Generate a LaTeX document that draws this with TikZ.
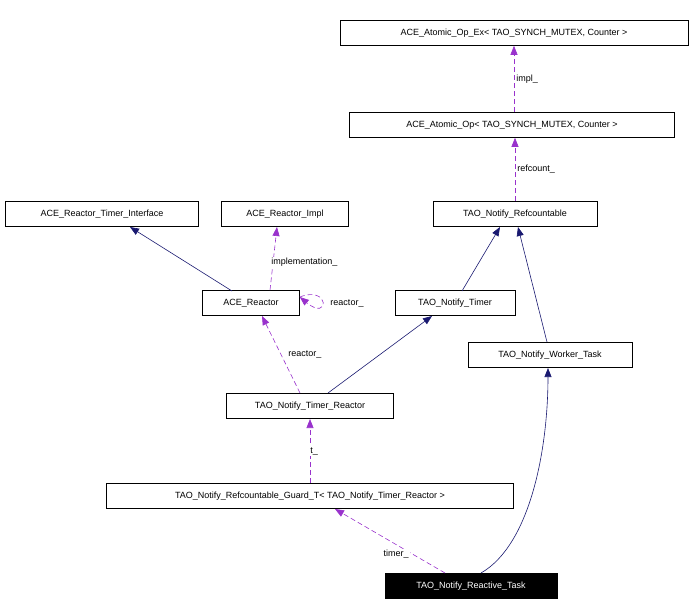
\documentclass[tikz,border=0pt]{standalone}
\usepackage{fontspec}
\setmainfont{Liberation Sans}
\usetikzlibrary{arrows.meta}
\begin{document}
\begin{tikzpicture}[x=1pt,y=-1pt,
 box/.style={draw=black,fill=white,font=\fontsize{9}{10}\selectfont,minimum height=25pt,inner xsep=3pt,anchor=center,line width=0.6pt},
 inh/.style={draw={rgb,255:red,25;green,25;blue,112},-{Triangle[open,fill={rgb,255:red,25;green,25;blue,112},length=9pt,width=7pt]},line width=0.6pt},
 use/.style={draw={rgb,255:red,153;green,50;blue,204},dashed,dash pattern=on 5pt off 3pt,-{Triangle[fill={rgb,255:red,153;green,50;blue,204},length=9pt,width=7pt]},line width=0.6pt},
 lbl/.style={font=\fontsize{9}{10}\selectfont,fill=white,inner sep=1pt}]
\useasboundingbox (0,0) rectangle (694,616);
\node[box,minimum width=348pt] (ex) at (514,33) {ACE\_Atomic\_Op\_Ex< TAO\_SYNCH\_MUTEX, Counter >};
\node[box,minimum width=325pt] (op) at (512,125) {ACE\_Atomic\_Op< TAO\_SYNCH\_MUTEX, Counter >};
\node[box,minimum width=164pt] (rc) at (515,214) {TAO\_Notify\_Refcountable};
\node[box,minimum width=193pt] (rti) at (102,214) {ACE\_Reactor\_Timer\_Interface};
\node[box,minimum width=127pt] (ri) at (285,214) {ACE\_Reactor\_Impl};
\node[box,minimum width=97pt] (r) at (251,303) {ACE\_Reactor};
\node[box,minimum width=120pt] (tm) at (455,303) {TAO\_Notify\_Timer};
\node[box,minimum width=164pt] (wt) at (550,355) {TAO\_Notify\_Worker\_Task};
\node[box,minimum width=167pt] (tr) at (310,406) {TAO\_Notify\_Timer\_Reactor};
\node[box,minimum width=407pt] (g) at (310,496) {TAO\_Notify\_Refcountable\_Guard\_T< TAO\_Notify\_Timer\_Reactor >};
\node[box,minimum width=172pt,fill=black,text=white] (rt) at (471,586) {TAO\_Notify\_Reactive\_Task};

\draw[use] (op.north -| ex.south) -- (ex.south) node[lbl,midway,right=1pt] {impl\_};
\draw[use] (rc.north) -- (rc.north|-op.south) node[lbl,midway,right=1pt] {refcount\_};
\draw[inh] (232,291) -- (130,227);
\draw[use] (r.north -| 270,0) -- (277,227) node[lbl,pos=0.45,right=-3pt] {implementation\_};
\draw[use] (r.east) ++(0,-6) .. controls (330,285) and (330,322) .. ([yshift=6pt]r.east);
\node[lbl,fill=none] at (347,303) {reactor\_};
\draw[inh] (462,291) -- (500,227);
\draw[inh] (547,342) -- (518,227);
\draw[use] (300,393) -- (262,316) node[lbl,pos=0.5,right=6pt] {reactor\_};
\draw[inh] (328,393) -- (432,316);
\draw[use] (310,483) -- (310,419) node[lbl,pos=0.5,right=-1pt] {t\_};
\draw[use] (445,573) -- (335,509) node[lbl,pos=0.3,left=2pt] {timer\_};
\draw[inh] (481,573) .. controls (530,545) and (548,450) .. (548,368);
\end{tikzpicture}
\end{document}
